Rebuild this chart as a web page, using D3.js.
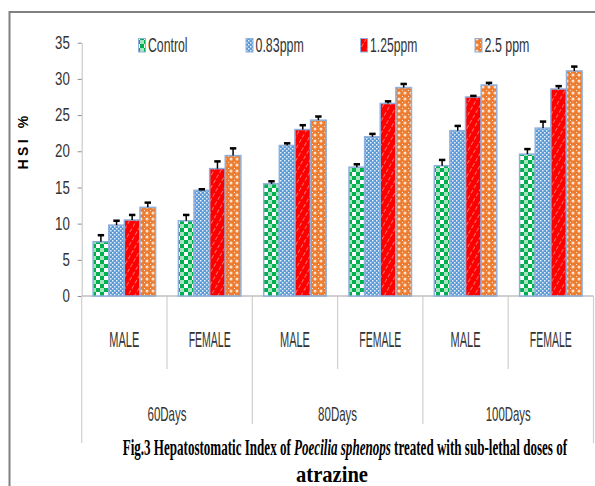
<!DOCTYPE html>
<html><head><meta charset="utf-8">
<script src="https://cdn.jsdelivr.net/npm/d3@7/dist/d3.min.js"></script>
<style>body{margin:0;background:#fff}svg{display:block}</style>
</head><body>
<svg id="c" width="595" height="486"></svg>
<script>
const categories = ["MALE","FEMALE","MALE","FEMALE","MALE","FEMALE"];
const periods = ["60Days","80Days","100Days"];
const seriesNames = ["Control","0.83ppm","1.25ppm","2.5 ppm"];
const control = [7.5, 10.4, 15.5, 17.8, 18.0, 19.6];
const ppm083  = [9.8, 14.6, 20.8, 22.0, 22.85, 23.2];
const ppm125  = [10.5, 17.6, 23.0, 26.6, 27.5, 28.6];
const ppm25   = [12.25, 19.4, 24.3, 28.8, 29.15, 31.1];
const errControl = [0.9, 0.8, 0.35, 0.4, 0.8, 0.7];
const err083     = [0.6, 0.15, 0.3, 0.4, 0.65, 0.9];
const err125     = [0.7, 1.0, 0.6, 0.3, 0.15, 0.4];
const err25      = [0.65, 1.0, 0.5, 0.5, 0.3, 0.6];
const yTicks = [0,5,10,15,20,25,30,35];

const values = [control, ppm083, ppm125, ppm25];
const errs = [errControl, err083, err125, err25];
const patIds = ["p-ctrl","p-083","p-125","p-25"];
const SANS = "Liberation Sans, Arial, sans-serif";
const SERIF = "Liberation Serif, Times New Roman, serif";

const svg = d3.select("#c");
const defs = svg.append("defs");
let p = defs.append("pattern").attr("id","p-ctrl").attr("patternUnits","userSpaceOnUse").attr("width",8).attr("height",8);
p.append("rect").attr("width",8).attr("height",8).attr("fill","#ffffff");
p.append("rect").attr("width",4).attr("height",4).attr("fill","#00b050");
p.append("rect").attr("x",4).attr("y",4).attr("width",4).attr("height",4).attr("fill","#00b050");
p.append("rect").attr("x",4).attr("y",0).attr("width",4).attr("height",4).attr("fill","#00b050").attr("opacity",0.35);

p = defs.append("pattern").attr("id","p-083").attr("patternUnits","userSpaceOnUse").attr("width",4).attr("height",4);
p.append("rect").attr("width",4).attr("height",4).attr("fill","#5b9bd5");
p.append("rect").attr("x",0).attr("y",0).attr("width",1.5).attr("height",1.5).attr("fill","#e8f1fb");
p.append("rect").attr("x",2).attr("y",2).attr("width",1.5).attr("height",1.5).attr("fill","#e8f1fb");

p = defs.append("pattern").attr("id","p-125").attr("patternUnits","userSpaceOnUse").attr("width",6).attr("height",6).attr("patternTransform","rotate(30)");
p.append("rect").attr("width",6).attr("height",6).attr("fill","#ff0000");
p.append("line").attr("x1",0).attr("y1",0).attr("x2",0).attr("y2",4).attr("stroke","#ffb0b0").attr("stroke-width",1.2);

p = defs.append("pattern").attr("id","p-25").attr("patternUnits","userSpaceOnUse").attr("width",6).attr("height",6);
p.append("rect").attr("width",6).attr("height",6).attr("fill","#ed7d31");
p.append("circle").attr("cx",3).attr("cy",3).attr("r",1.5).attr("fill","#fbe2cf");
p.append("rect").attr("x",0).attr("y",0).attr("width",1).attr("height",1).attr("fill","#fbe2cf");

svg.append("rect").attr("x",9.5).attr("y",12).attr("width",620).attr("height",500)
  .attr("fill","none").attr("stroke","#808080").attr("stroke-width",2);

function fitText(parent, x, y, w, anchor, family, size, weight, fill) {
  const t = parent.append("text").attr("text-anchor",anchor).attr("font-family",family)
    .attr("font-size",size).attr("font-weight",weight).attr("fill",fill);
  t.fit = () => {
    const n = t.node().getComputedTextLength();
    t.attr("transform",`translate(${x},${y}) scale(${w/n},1)`);
    return t;
  };
  return t;
}

const pLeft = 81.7, pRight = 593.5, pTop = 42.7, pBottom = 296;
const y = d3.scaleLinear().domain([0,35]).range([pBottom, pTop]);
const x0 = d3.scaleBand().domain(d3.range(categories.length)).range([pLeft, pRight]).padding(0);
const x1 = d3.scaleBand().domain(d3.range(seriesNames.length)).range([0, x0.bandwidth()]).paddingInner(0).paddingOuter(0.73);

const yAxis = svg.append("g").attr("transform",`translate(${pLeft},0)`)
  .call(d3.axisLeft(y).tickValues(yTicks).tickSize(4).tickSizeOuter(0));
yAxis.select(".domain").attr("stroke","#bfbfbf");
yAxis.selectAll(".tick line").attr("stroke","#8c8c8c");
yAxis.selectAll(".tick text").attr("x",-15.6).attr("transform","scale(0.76,1)")
  .attr("font-family",SANS).attr("font-size",17.5).attr("fill","#333");

const step = x0.step();
for (let i = 0; i <= categories.length; i++) {
  const xx = pLeft + i*step;
  let y2;
  if (i === 0 || i === categories.length) y2 = 443;
  else if (i % 2 === 0) y2 = 424;
  else y2 = 369;
  svg.append("line").attr("x1",xx).attr("x2",xx).attr("y1",pBottom).attr("y2",y2)
    .attr("stroke","#d0d0d0").attr("stroke-width",1.2);
}
svg.append("line").attr("x1",pLeft).attr("x2",pRight).attr("y1",pBottom).attr("y2",pBottom)
  .attr("stroke","#bfbfbf").attr("stroke-width",1.5);

const gBars = svg.append("g");
seriesNames.forEach((s, si) => {
  categories.forEach((c, ci) => {
    const v = values[si][ci];
    const bx = x0(ci) + x1(si);
    gBars.append("rect").attr("x",bx).attr("y",y(v)).attr("width",x1.bandwidth()).attr("height",y(0)-y(v))
      .attr("fill",`url(#${patIds[si]})`).attr("stroke","#8fb0dc").attr("stroke-width",1.5);
  });
});
seriesNames.forEach((s, si) => {
  categories.forEach((c, ci) => {
    const v = values[si][ci], e = errs[si][ci];
    const cx = x0(ci) + x1(si) + x1.bandwidth()/2;
    gBars.append("line").attr("x1",cx).attr("x2",cx).attr("y1",y(v)).attr("y2",y(v+e))
      .attr("stroke","#000").attr("stroke-width",1.5);
    gBars.append("line").attr("x1",cx-3.2).attr("x2",cx+3.2).attr("y1",y(v+e)).attr("y2",y(v+e))
      .attr("stroke","#000").attr("stroke-width",2.5);
  });
});

const catW = {"MALE":30, "FEMALE":42};
categories.forEach((c, ci) => {
  fitText(svg, x0(ci)+x0.bandwidth()/2, 346.5, catW[c], "middle", SANS, 22, "normal", "#333").text(c).fit();
});
const dayW = [39, 39, 45];
periods.forEach((d, di) => {
  fitText(svg, pLeft + (2*di+1)*step, 420.5, dayW[di], "middle", SANS, 20.5, "normal", "#333").text(d).fit();
});

const legX = [138.5, 246, 360.5, 475];
const legTextW = [39.6, 48.3, 47.3, 45];
seriesNames.forEach((s, si) => {
  svg.append("rect").attr("x",legX[si]).attr("y",38.5).attr("width",7).attr("height",13.5)
    .attr("fill",`url(#${patIds[si]})`).attr("stroke","#8fb0dc").attr("stroke-width",1);
  fitText(svg, legX[si]+9.5, 52.3, legTextW[si], "start", SANS, 19.5, "normal", "#333").text(s).fit();
});

svg.append("text").attr("transform","translate(28,141) rotate(-90)").attr("text-anchor","middle")
  .attr("font-family",SANS).attr("font-weight","bold").attr("font-size",14)
  .attr("letter-spacing",3.5).attr("fill","#000").text("HSI %");

const cap = fitText(svg, 122.7, 455, 444.6, "start", SERIF, 23, "bold", "#000");
cap.append("tspan").text("Fig.3 Hepatostomatic Index of ");
cap.append("tspan").attr("font-style","italic").text("Poecilia sphenops");
cap.append("tspan").text(" treated with sub-lethal doses of");
cap.fit();
fitText(svg, 332, 482, 72, "middle", SERIF, 23, "bold", "#000").text("atrazine").fit();
</script>
</body></html>
